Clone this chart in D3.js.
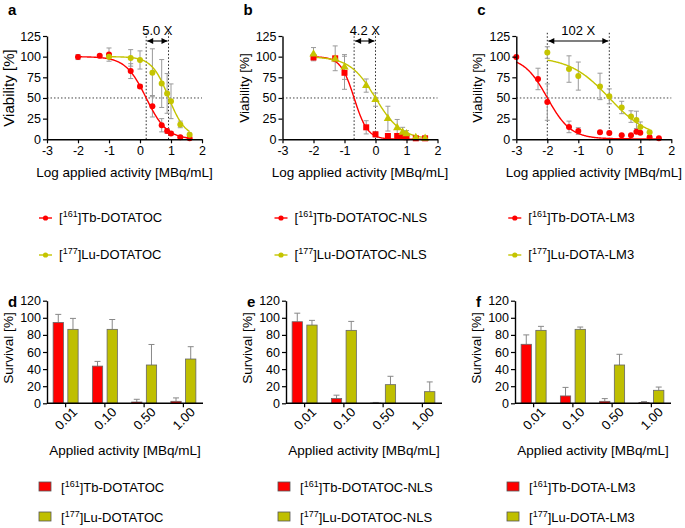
<!DOCTYPE html>
<html>
<head>
<meta charset="utf-8">
<script src="https://cdn.jsdelivr.net/npm/d3@7"></script>
<style>
  body { margin: 0; background: #fff; }
  svg { font-family: "Liberation Sans", Arial, sans-serif; }
</style>
</head>
<body>
<svg id="chart" width="685" height="528"></svg>
<script>
// log10 of applied activity [MBq/mL]
const xA_tb = [-2, -1.3, -1, -0.3, 0, 0.4, 0.7, 0.875, 1, 1.3, 1.6]
const yA_tb = [99.5, 101, 102.5, 82.5, 64, 40, 17, 10, 7, 2.5, 1.2]
const eA_tb = [3, 1, 8, 9, 2, 13, 8, 3, 2, 1, 0.5]
const xA_lu = [-1, -0.3, 0, 0.4, 0.7, 0.875, 1, 1.3, 1.6]
const yA_lu = [100, 98.5, 96, 80.5, 67.5, 55.5, 46, 18, 5.5]
const eA_lu = [1, 10, 11, 29, 29, 24, 21, 4, 2]

const xB = [-2, -1.3, -1, -0.3, 0, 0.4, 0.7, 0.875, 1, 1.3, 1.6]
const yB_tb = [99, 98, 80.5, 14.5, 6, 4, 4, 4, 2.5, 1.2, 1.2]
const eB_tb = [2, 15, 20, 8, 3, 1, 1, 1, 1, 0.5, 0.5]
const yB_lu = [103, 97, 87.5, 65, 48, 25, 14, 8.5, 6.5, 2, 1.2]
const eB_lu = [8, 3, 15, 8, 8, 15, 10, 6, 4, 1, 0.5]

const xC_tb = [-3, -2.3, -2, -1.3, -1, -0.3, 0, 0.4, 0.7, 0.875, 1, 1.3, 1.6]
const yC_tb = [99.5, 73, 45, 15, 10, 8.5, 7.5, 5, 5, 9, 8, 2.5, 1.2]
const eC_tb = [1, 13, 22, 7, 4, 1, 1, 1, 1, 1, 1, 1, 0.5]
const xC_lu = [-2, -1.3, -1, -0.3, 0, 0.4, 0.7, 0.875, 1, 1.3]
const yC_lu = [105, 85, 76.5, 64, 52, 38.5, 27.5, 23.5, 15, 8.5]
const eC_lu = [7, 16, 17, 16, 9, 7.5, 7, 10.5, 6, 1]

// fitted curves: [top, bottom, logIC50, hill, xFrom, xTo]
const fitA_tb = [100, 0, 0.2, 1.3, -2, 1.6]
const fitA_lu = [100, 2, 0.92, 1.6, -1, 1.6]
const fitB_tb = [100, 0, -0.69, 2.0, -2, 1.6]
const fitB_lu = [100, 0, 0.0, 1.05, -2, 1.6]
const fitC_tb = [100, 0.5, -2.0, 1.15, -3, 1.6]
const fitC_lu = [100, 0, 0.0, 0.68, -2, 1.3]

const foldLabels = ["5.0 X", "4.2 X", "102 X"]

const xTicks = [-3, -2, -1, 0, 1, 2]
const yTicksViab = [0, 25, 50, 75, 100, 125]
const yTicksSurv = [0, 20, 40, 60, 80, 100, 120]

const activities = ["0.01", "0.10", "0.50", "1.00"]
const survD_tb = [94.5, 43.5, 1.5, 2.3]
const survD_tbErr = [9.5, 5.5, 3.2, 4]
const survD_lu = [86.5, 86.5, 44.8, 51.8]
const survD_luErr = [12.8, 11.5, 24, 14.4]
const survE_tb = [95.4, 5.5, 0.3, 0]
const survE_tbErr = [10, 4, 0.7, 0]
const survE_lu = [91.5, 85.3, 21.8, 13.6]
const survE_luErr = [5.5, 10.5, 9.8, 11.4]
const survF_tb = [69, 8.6, 2.3, 0.8]
const survF_tbErr = [11, 10, 3.2, 1.2]
const survF_lu = [85.3, 86.5, 44.8, 15.2]
const survF_luErr = [4.7, 2.7, 12.5, 3.8]

const tbNames = ["Tb-DOTATOC", "Tb-DOTATOC-NLS", "Tb-DOTA-LM3"]
const luNames = ["Lu-DOTATOC", "Lu-DOTATOC-NLS", "Lu-DOTA-LM3"]

const RED = "#ff0000"
const OLIVE = "#c4c400"
const OLIVE_BAR = "#bfbf00"
const GREY = "#9a9a9a"

const svg = d3.select("#chart")

function styleAxis(ax) {
    ax.select(".domain").attr("stroke", "#000").attr("stroke-width", 1.4)
    ax.selectAll(".tick line").attr("stroke", "#000").attr("stroke-width", 1.2)
    ax.selectAll(".tick text").attr("font-size", 12.5).attr("fill", "#000")
}

function marker(g, shape, x, y, color) {
    if (shape === "square") {
        g.append("rect").attr("x", x - 3).attr("y", y - 3).attr("width", 6).attr("height", 6).attr("fill", color)
    } else if (shape === "triangle") {
        g.append("path").attr("d", d3.symbol(d3.symbolTriangle, 30)()).attr("transform", `translate(${x},${y})`).attr("fill", color)
    } else {
        g.append("circle").attr("cx", x).attr("cy", y).attr("r", 3).attr("fill", color)
    }
}

function curvePanel(cfg) {
    const g = svg.append("g")
    const x = d3.scaleLinear().domain([-3, 2]).range([cfg.left, cfg.left + 155])
    const y = d3.scaleLinear().domain([0, 125]).range([139.3, 36])

    g.append("text").attr("x", cfg.left - 39).attr("y", 15).text(cfg.letter)
        .attr("font-weight", "bold").attr("font-size", 15)

    // 50% line and IC50 lines
    g.append("line").attr("x1", x(-3)).attr("x2", x(2)).attr("y1", y(50)).attr("y2", y(50))
        .attr("stroke", "#444").attr("stroke-width", 1).attr("stroke-dasharray", "1.5,2")
    const ic = [cfg.fits[0][2], cfg.fits[1][2]]
    ic.forEach(v => {
        g.append("line").attr("x1", x(v)).attr("x2", x(v)).attr("y1", y(0)).attr("y2", 32)
            .attr("stroke", "#222").attr("stroke-width", 1).attr("stroke-dasharray", "1.5,2")
    })
    // fold arrow
    const ay = 41
    g.append("line").attr("x1", x(ic[0]) + 1).attr("x2", x(ic[1]) - 1).attr("y1", ay).attr("y2", ay)
        .attr("stroke", "#000").attr("stroke-width", 1.1)
    g.append("path").attr("d", `M${x(ic[0]) + 1},${ay}l6,-3v6z`).attr("fill", "#000")
    g.append("path").attr("d", `M${x(ic[1]) - 1},${ay}l-6,-3v6z`).attr("fill", "#000")
    g.append("text").attr("x", (x(ic[0]) + x(ic[1])) / 2).attr("y", 35).attr("text-anchor", "middle")
        .attr("font-size", 13).text(cfg.fold)

    // error bars
    cfg.series.forEach(s => {
        s.x.forEach((xv, i) => {
            const e = s.e[i]
            if (e <= 0.6) return
            const cx = x(xv)
            g.append("line").attr("x1", cx).attr("x2", cx).attr("y1", y(s.y[i] - e)).attr("y2", y(s.y[i] + e))
                .attr("stroke", GREY).attr("stroke-width", 1)
            ;[s.y[i] - e, s.y[i] + e].forEach(v => {
                g.append("line").attr("x1", cx - 2.5).attr("x2", cx + 2.5).attr("y1", y(v)).attr("y2", y(v))
                    .attr("stroke", GREY).attr("stroke-width", 1)
            })
        })
    })

    // fitted curves
    cfg.series.forEach((s, k) => {
        const f = cfg.fits[k]
        const xs = d3.range(f[4], f[5] + 0.0001, 0.02)
        const line = d3.line().x(d => x(d)).y(d => y(f[1] + (f[0] - f[1]) / (1 + Math.pow(10, (d - f[2]) * f[3]))))
        g.append("path").attr("d", line(xs)).attr("fill", "none").attr("stroke", s.color).attr("stroke-width", 1.4)
    })

    cfg.series.forEach(s => {
        s.x.forEach((xv, i) => marker(g, s.shape, x(xv), y(s.y[i]), s.color))
    })

    const ax = g.append("g").attr("transform", `translate(0,${y(0)})`)
        .call(d3.axisBottom(x).tickValues(xTicks).tickFormat(d => String(d)).tickSize(4).tickSizeOuter(0).tickPadding(3))
    styleAxis(ax)
    const ay2 = g.append("g").attr("transform", `translate(${x(-3)},0)`)
        .call(d3.axisLeft(y).tickValues(yTicksViab).tickSize(4).tickSizeOuter(0).tickPadding(2))
    styleAxis(ay2)

    g.append("text").attr("x", (x(-3) + x(2)) / 2).attr("y", 177).attr("text-anchor", "middle")
        .attr("font-size", 13.5).text("Log applied activity [MBq/mL]")
    g.append("text").attr("transform", `translate(${cfg.left - (cfg.big ? 33 : 34)},88) rotate(-90)`)
        .attr("text-anchor", "middle").attr("font-size", cfg.big ? 15 : 13.5).text("Viability [%]")

    // legend
    const lx = cfg.left - 2
    ;[[RED, "161", "]Tb", cfg.tb, 222], [OLIVE, "177", "]Lu", cfg.lu, 259]].forEach(r => {
        g.append("line").attr("x1", lx - 6).attr("x2", lx + 7).attr("y1", r[4] - 4).attr("y2", r[4] - 4)
            .attr("stroke", r[0]).attr("stroke-width", 1.4)
        g.append("circle").attr("cx", lx + 0.5).attr("cy", r[4] - 4).attr("r", 2.6).attr("fill", r[0])
        const t = g.append("text").attr("x", lx + 14).attr("y", r[4]).attr("font-size", 13)
        t.append("tspan").text("[")
        t.append("tspan").attr("font-size", 9).attr("dy", -5).text(r[1])
        t.append("tspan").attr("dy", 5).text(r[2] + r[3].slice(2))
    })
}

function barPanel(cfg) {
    const g = svg.append("g")
    const y = d3.scaleLinear().domain([0, 120]).range([403.3, 300.7])
    const x0 = d3.scaleBand().domain(activities).range([cfg.left - 1, cfg.left + 156])
    const x1 = d3.scaleBand().domain(["tb", "lu"]).range([-12.5, 12.5]).paddingInner(0.3)

    g.append("text").attr("x", cfg.left - 39).attr("y", 307).text(cfg.letter)
        .attr("font-weight", "bold").attr("font-size", 15)

    const groups = [["tb", cfg.tb, cfg.tbErr, RED], ["lu", cfg.lu, cfg.luErr, OLIVE_BAR]]
    groups.forEach(gr => {
        activities.forEach((a, i) => {
            const bx = x0(a) + x0.bandwidth() / 2 + x1(gr[0])
            const cx = bx + x1.bandwidth() / 2
            const top = y(gr[1][i] + gr[2][i])
            if (gr[2][i] > 0) {
                g.append("line").attr("x1", cx).attr("x2", cx).attr("y1", y(gr[1][i])).attr("y2", top)
                    .attr("stroke", "#888").attr("stroke-width", 1)
                g.append("line").attr("x1", cx - 3).attr("x2", cx + 3).attr("y1", top).attr("y2", top)
                    .attr("stroke", "#888").attr("stroke-width", 1)
            }
            if (gr[1][i] > 0) {
                g.append("rect").attr("x", bx).attr("width", x1.bandwidth())
                    .attr("y", y(gr[1][i])).attr("height", y(0) - y(gr[1][i]))
                    .attr("fill", gr[3]).attr("stroke", "#666").attr("stroke-width", 0.8)
            }
        })
    })

    const ax = g.append("g").attr("transform", `translate(0,${y(0)})`)
        .call(d3.axisBottom(x0).tickSize(4).tickSizeOuter(0))
    styleAxis(ax)
    ax.select(".domain").attr("d", `M${cfg.left},0H${cfg.left + 156}`)
    ax.selectAll(".tick text").attr("text-anchor", "end").attr("font-size", 13)
        .attr("transform", "translate(5,2) rotate(-45)").attr("dy", "0.35em").attr("y", 6)
    const ay2 = g.append("g").attr("transform", `translate(${cfg.left},0)`)
        .call(d3.axisLeft(y).tickValues(yTicksSurv).tickSize(4).tickSizeOuter(0).tickPadding(2))
    styleAxis(ay2)

    g.append("text").attr("x", cfg.left + 78).attr("y", 455).attr("text-anchor", "middle")
        .attr("font-size", 13.5).text("Applied activity [MBq/mL]")
    g.append("text").attr("transform", `translate(${cfg.left - 34},348) rotate(-90)`)
        .attr("text-anchor", "middle").attr("font-size", 13.5).text("Survival [%]")

    const lx = cfg.left - 8
    ;[[RED, "161", "]Tb", cfg.tbName, 492], [OLIVE_BAR, "177", "]Lu", cfg.luName, 522]].forEach(r => {
        g.append("rect").attr("x", lx).attr("y", r[4] - 10).attr("width", 12).attr("height", 9)
            .attr("fill", r[0]).attr("stroke", "#555").attr("stroke-width", 0.8)
        const t = g.append("text").attr("x", lx + 22).attr("y", r[4]).attr("font-size", 13)
        t.append("tspan").text("[")
        t.append("tspan").attr("font-size", 9).attr("dy", -5).text(r[1])
        t.append("tspan").attr("dy", 5).text(r[2] + r[3].slice(2))
    })
}

curvePanel({ letter: "a", left: 47, big: true, fold: foldLabels[0], tb: tbNames[0], lu: luNames[0],
    fits: [fitA_tb, fitA_lu],
    series: [{ x: xA_tb, y: yA_tb, e: eA_tb, color: RED, shape: "circle" },
             { x: xA_lu, y: yA_lu, e: eA_lu, color: OLIVE, shape: "circle" }] })
curvePanel({ letter: "b", left: 282.5, fold: foldLabels[1], tb: tbNames[1], lu: luNames[1],
    fits: [fitB_tb, fitB_lu],
    series: [{ x: xB, y: yB_tb, e: eB_tb, color: RED, shape: "square" },
             { x: xB, y: yB_lu, e: eB_lu, color: OLIVE, shape: "triangle" }] })
curvePanel({ letter: "c", left: 516.3, fold: foldLabels[2], tb: tbNames[2], lu: luNames[2],
    fits: [fitC_tb, fitC_lu],
    series: [{ x: xC_tb, y: yC_tb, e: eC_tb, color: RED, shape: "circle" },
             { x: xC_lu, y: yC_lu, e: eC_lu, color: OLIVE, shape: "circle" }] })

barPanel({ letter: "d", left: 47, tb: survD_tb, tbErr: survD_tbErr, lu: survD_lu, luErr: survD_luErr, tbName: tbNames[0], luName: luNames[0] })
barPanel({ letter: "e", left: 286, tb: survE_tb, tbErr: survE_tbErr, lu: survE_lu, luErr: survE_luErr, tbName: tbNames[1], luName: luNames[1] })
barPanel({ letter: "f", left: 515, tb: survF_tb, tbErr: survF_tbErr, lu: survF_lu, luErr: survF_luErr, tbName: tbNames[2], luName: luNames[2] })
</script>
</body>
</html>
